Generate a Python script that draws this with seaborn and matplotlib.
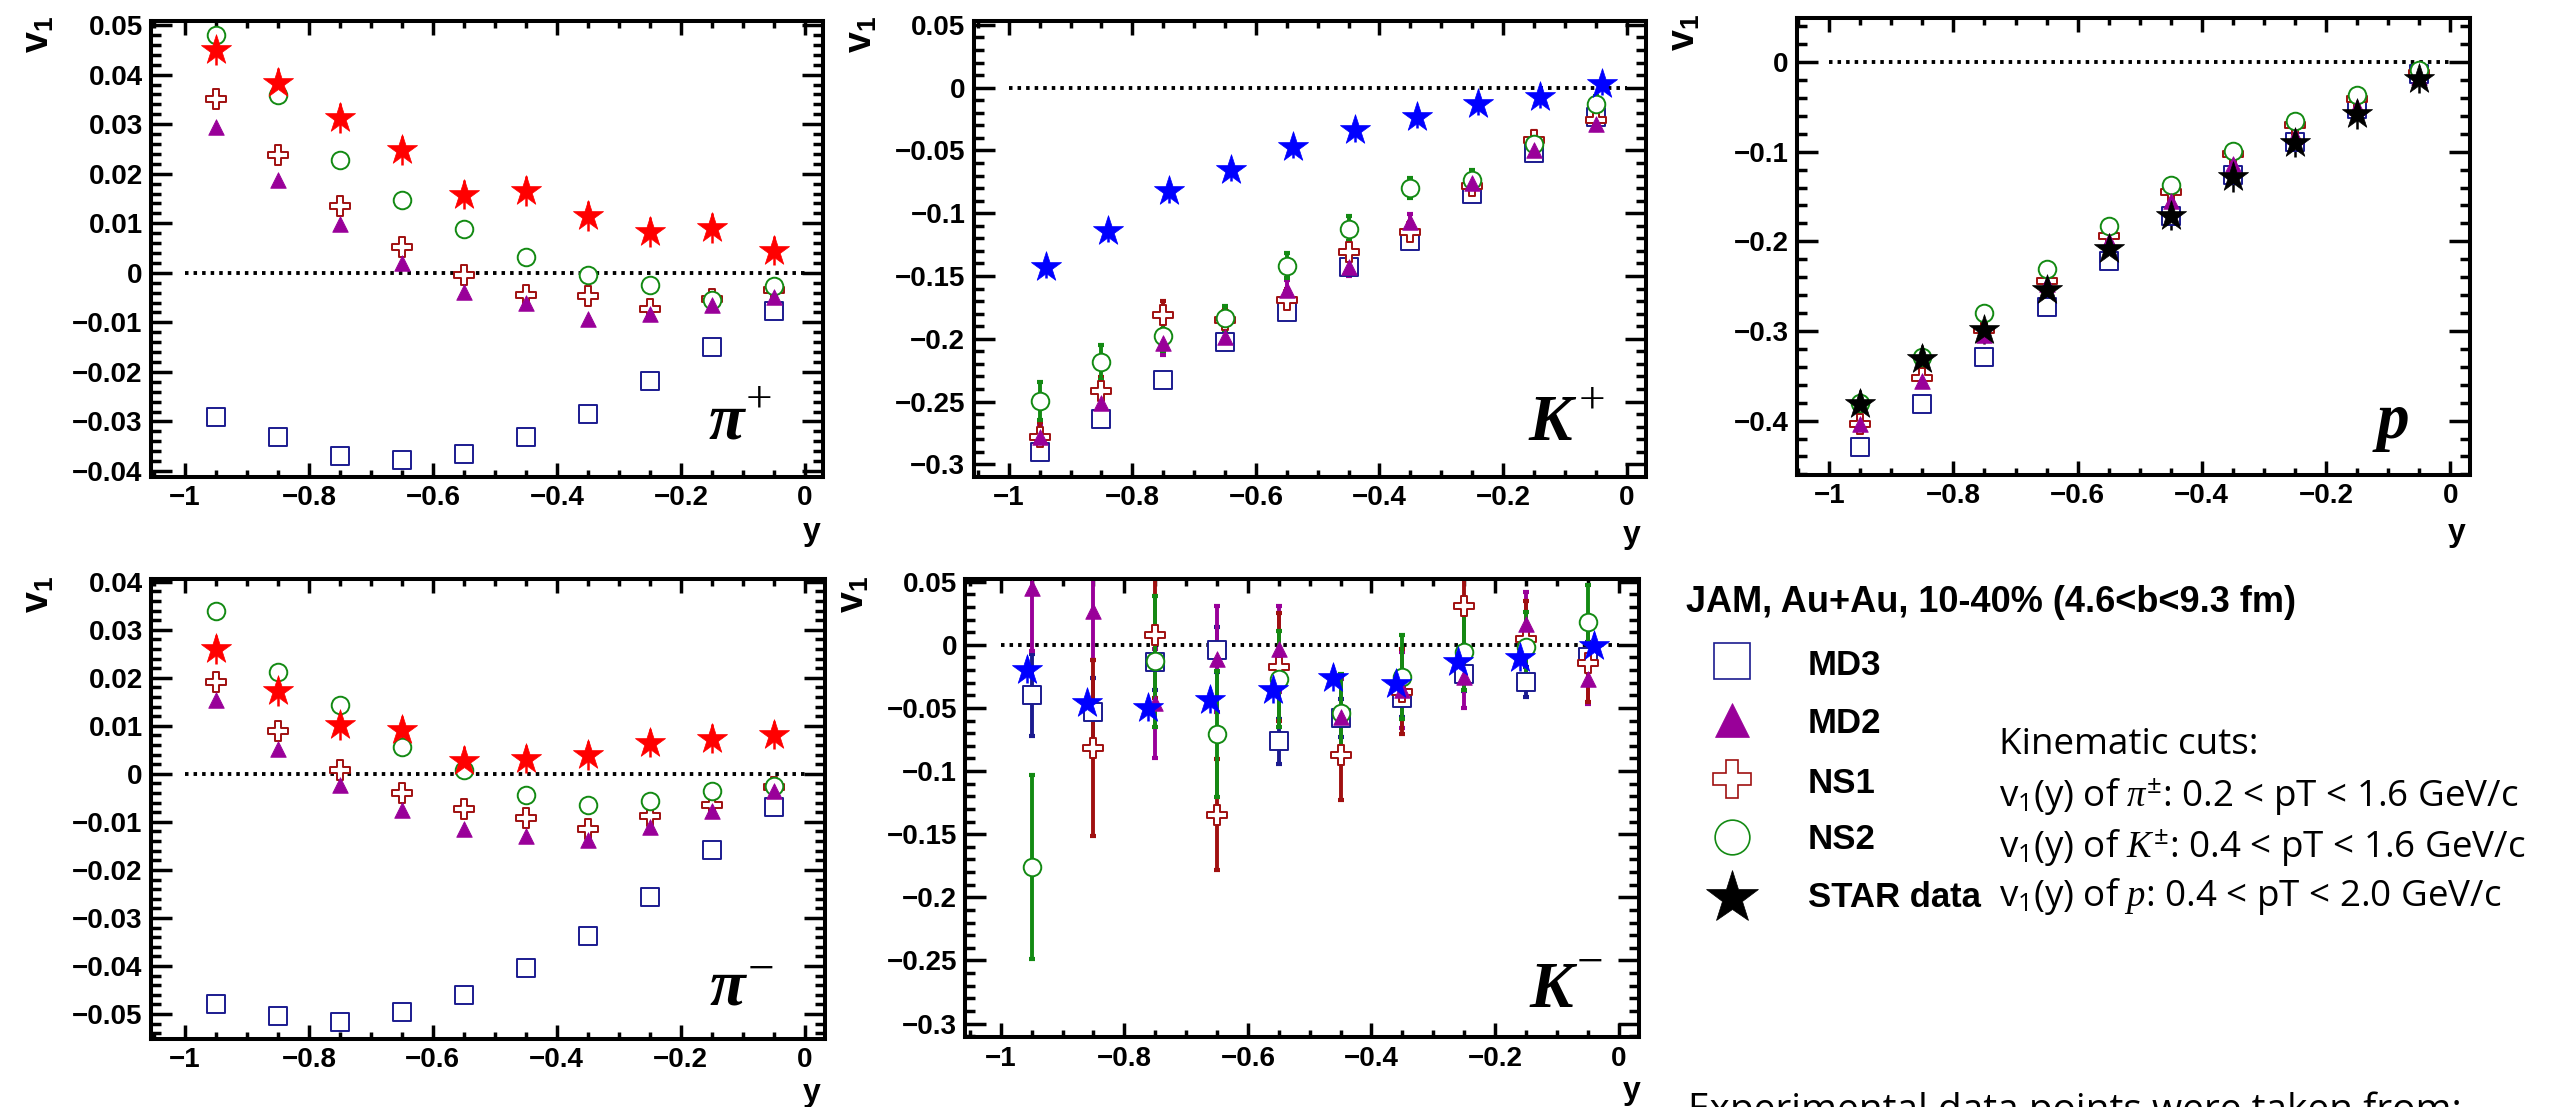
import matplotlib
matplotlib.use("Agg")
import matplotlib.pyplot as plt
from matplotlib.lines import Line2D
from matplotlib.ticker import MultipleLocator, FuncFormatter
import seaborn as sns

# ---------------------------------------------------------------------------
# Directed flow v1(y), JAM Au+Au 10-40 %, four model variants vs STAR data
# ---------------------------------------------------------------------------
y_model = [-0.95, -0.85, -0.75, -0.65, -0.55, -0.45, -0.35, -0.25, -0.15, -0.05]

# pi+
pip_md3 = [-0.029, -0.0331, -0.037, -0.0378, -0.0365, -0.0331, -0.0285, -0.0219, -0.015, -0.0077]
pip_md2 = [0.0295, 0.0187, 0.0098, 0.002, -0.0038, -0.0061, -0.0093, -0.0083, -0.0065, -0.0049]
pip_ns1 = [0.035, 0.0237, 0.0135, 0.0053, -0.0005, -0.0045, -0.0047, -0.0073, -0.0053, -0.0035]
pip_ns2 = [0.0479, 0.0358, 0.0228, 0.0147, 0.0088, 0.0031, -0.0005, -0.0025, -0.0055, -0.0027]
pip_star_y = [-0.95, -0.85, -0.75, -0.65, -0.55, -0.45, -0.35, -0.25, -0.15, -0.05]
pip_star = [0.045, 0.0383, 0.0313, 0.0247, 0.0158, 0.0165, 0.0115, 0.0083, 0.0091, 0.0045]
pip_star_err = [0.003, 0.003, 0.003, 0.003, 0.003, 0.003, 0.003, 0.003, 0.003, 0.003]

# pi-
pim_md3 = [-0.0479, -0.0505, -0.0516, -0.0496, -0.0461, -0.0405, -0.0337, -0.0256, -0.0159, -0.0069]
pim_md2 = [0.0154, 0.0052, -0.0024, -0.0075, -0.0114, -0.013, -0.0138, -0.011, -0.0078, -0.0036]
pim_ns1 = [0.0191, 0.009, 0.0009, -0.0039, -0.0073, -0.0092, -0.0114, -0.0088, -0.0065, -0.0028]
pim_ns2 = [0.0338, 0.0212, 0.0144, 0.0056, 0.0009, -0.0044, -0.0065, -0.0057, -0.0035, -0.0026]
pim_star_y = [-0.95, -0.85, -0.75, -0.65, -0.55, -0.45, -0.35, -0.25, -0.15, -0.05]
pim_star = [0.0259, 0.0172, 0.0101, 0.0091, 0.0027, 0.0031, 0.0039, 0.0064, 0.0073, 0.0081]
pim_star_err = [0.003, 0.003, 0.003, 0.003, 0.003, 0.003, 0.003, 0.003, 0.003, 0.003]

# K+
kp_md3 = [-0.2906, -0.2637, -0.2332, -0.2026, -0.1783, -0.143, -0.1218, -0.0851, -0.0523, -0.0234]
kp_md3_err = [0.004, 0.004, 0.004, 0.004, 0.004, 0.004, 0.004, 0.004, 0.004, 0.004]
kp_md2 = [-0.278, -0.2514, -0.2037, -0.199, -0.161, -0.143, -0.1074, -0.0759, -0.05, -0.029]
kp_md2_err = [0.01, 0.01, 0.009, 0.008, 0.008, 0.007, 0.007, 0.006, 0.006, 0.005]
kp_ns1 = [-0.278, -0.2418, -0.181, -0.185, -0.169, -0.131, -0.115, -0.0781, -0.0418, -0.026]
kp_ns1_err = [0.012, 0.011, 0.011, 0.009, 0.009, 0.009, 0.008, 0.007, 0.007, 0.006]
kp_ns2 = [-0.2494, -0.2188, -0.1979, -0.1836, -0.1418, -0.1125, -0.0798, -0.0733, -0.045, -0.0129]
kp_ns2_err = [0.015, 0.014, 0.012, 0.01, 0.01, 0.01, 0.008, 0.008, 0.007, 0.006]
kp_star_y = [-0.94, -0.84, -0.74, -0.64, -0.54, -0.44, -0.34, -0.24, -0.14, -0.04]
kp_star = [-0.143, -0.114, -0.0825, -0.0655, -0.047, -0.034, -0.0234, -0.013, -0.0076, 0.0028]
kp_star_err = [0.009, 0.009, 0.009, 0.009, 0.009, 0.009, 0.009, 0.009, 0.009, 0.009]

# K-
km_md3 = [-0.0398, -0.0529, -0.0136, -0.0037, -0.0765, -0.0581, -0.0419, -0.0228, -0.0293, -0.0097]
km_md3_err = [0.0325, 0.027, 0.0225, 0.018, 0.018, 0.015, 0.015, 0.014, 0.012, 0.012]
km_md2 = [0.0453, 0.027, -0.0463, -0.011, -0.003, -0.057, -0.036, -0.0254, 0.0165, -0.0267]
km_md2_err = [0.05, 0.039, 0.043, 0.042, 0.034, 0.03, 0.03, 0.025, 0.025, 0.02]
km_ns1 = [float("nan"), -0.0817, 0.0081, -0.1345, -0.0175, -0.087, -0.037, 0.0309, 0.0047, -0.0141]
km_ns1_err = [float("nan"), 0.07, 0.05, 0.044, 0.043, 0.036, 0.034, 0.04, 0.03, 0.031]
km_ns2 = [-0.176, float("nan"), -0.0131, -0.0707, -0.0272, -0.054, -0.0254, -0.0058, -0.0018, 0.0178]
km_ns2_err = [0.073, float("nan"), 0.052, 0.05, 0.038, 0.031, 0.033, 0.03, 0.028, 0.03]
km_star_y = [-0.958, -0.861, -0.761, -0.661, -0.56, -0.462, -0.36, -0.26, -0.159, -0.04]
km_star = [-0.0202, -0.0463, -0.0503, -0.0437, -0.0359, -0.0262, -0.0314, -0.0136, -0.0105, -0.001]
km_star_err = [0.01, 0.01, 0.01, 0.01, 0.01, 0.01, 0.01, 0.01, 0.01, 0.01]

# protons
p_md3 = [-0.4297, -0.3816, -0.3286, -0.2731, -0.2221, -0.1721, -0.1262, -0.0892, -0.0522, -0.013]
p_md2 = [-0.404, -0.3557, -0.3046, -0.2472, -0.2002, -0.1547, -0.114, -0.0825, -0.05, -0.0167]
p_ns1 = [-0.4038, -0.352, -0.299, -0.2446, -0.1936, -0.1447, -0.1029, -0.0707, -0.0411, -0.0122]
p_ns2 = [-0.3805, -0.3286, -0.2805, -0.2306, -0.1825, -0.1369, -0.0992, -0.0659, -0.0363, -0.0085]
p_star_y = [-0.95, -0.85, -0.75, -0.65, -0.55, -0.45, -0.35, -0.25, -0.15, -0.05]
p_star = [-0.3816, -0.3316, -0.299, -0.2546, -0.2084, -0.1714, -0.1288, -0.0899, -0.0585, -0.0185]
p_star_err = [0.016, 0.016, 0.016, 0.016, 0.016, 0.016, 0.016, 0.016, 0.016, 0.016]

model_names = ["MD3", "MD2", "NS1", "NS2"]
legend_labels = ["MD3", "MD2", "NS1", "NS2", "STAR data"]
kin_lines = [
    r"v$_1$(y) of $\pi^{\pm}$: 0.2 < pT < 1.6 GeV/c",
    r"v$_1$(y) of $K^{\pm}$: 0.4 < pT < 1.6 GeV/c",
    r"v$_1$(y) of $p$: 0.4 < pT < 2.0 GeV/c",
]

# ---------------------------------------------------------------------------
sns.set_theme(style="ticks")
plt.rcParams.update({
    "font.family": ["Liberation Sans", "DejaVu Sans"],
    "font.weight": "bold",
    "axes.unicode_minus": True,
    "mathtext.fontset": "custom",
    "mathtext.rm": "Open Sans:weight=normal",
    "mathtext.it": "Liberation Serif:style=italic:weight=normal",
    "mathtext.bf": "Liberation Sans:weight=bold",
    "axes.edgecolor": "black",
    "xtick.color": "black",
    "ytick.color": "black",
    "text.color": "black",
})

C_MD3 = "#1b1b8f"
C_MD2 = "#990099"
C_NS1 = "#a01010"
C_NS2 = "#138a13"

STYLE = {
    "MD3": dict(marker="s", s=160, face="white", edge=C_MD3, lw=1.4, z=3.0),
    "NS1": dict(marker="P", s=210, face="white", edge=C_NS1, lw=1.4, z=3.1),
    "NS2": dict(marker="o", s=160, face="white", edge=C_NS2, lw=1.4, z=3.2),
    "MD2": dict(marker="^", s=125, face=C_MD2, edge=C_MD2, lw=0.6, z=3.3),
}
STAR_S = 520

W, H = 2554, 1107
fig = plt.figure(figsize=(W / 100, H / 100), dpi=100, facecolor="white")


def add_panel(l, t, r, b):
    return fig.add_axes([l / W, 1 - b / H, (r - l) / W, (b - t) / H])


def tick_fmt(v, pos):
    v = round(v, 6)
    if abs(v) < 1e-9:
        return "0"
    return f"{v:g}".replace("-", "\u2212")


def style_axes(ax, xlim, ylim, ymaj, ymin):
    ax.set_xlim(*xlim)
    ax.set_ylim(*ylim)
    ax.xaxis.set_major_locator(MultipleLocator(0.2))
    ax.xaxis.set_minor_locator(MultipleLocator(0.05))
    ax.yaxis.set_major_locator(MultipleLocator(ymaj))
    ax.yaxis.set_minor_locator(MultipleLocator(ymin))
    ax.xaxis.set_major_formatter(FuncFormatter(tick_fmt))
    ax.yaxis.set_major_formatter(FuncFormatter(tick_fmt))
    ax.tick_params(which="both", direction="in", top=True, right=True,
                   width=2.5, labelsize=20, pad=6)
    ax.tick_params(axis="y", which="major", length=15)
    ax.tick_params(axis="y", which="minor", length=7.5)
    ax.tick_params(axis="x", which="major", length=10)
    ax.tick_params(axis="x", which="minor", length=5)
    for sp in ax.spines.values():
        sp.set_visible(True)
        sp.set_linewidth(2.9)
        sp.set_color("black")
    ax.set_xlabel("")
    ax.set_ylabel("")
    ax.hlines(0, -1, 0, colors="black", linewidth=2.8,
              linestyles=(0, (0.9, 1.3)), zorder=1.5)


def draw_panel(ax, xs, models, errs, star_x, star_v, star_err, star_color):
    # error bars first, markers on top of them
    for name in model_names:
        if errs.get(name) is not None:
            ax.errorbar(xs, models[name], yerr=errs[name], fmt="none",
                        ecolor=STYLE[name]["edge"], elinewidth=2.8,
                        capsize=2.0, capthick=3.0, zorder=2)
    ax.errorbar(star_x, star_v, yerr=star_err, fmt="none", ecolor=star_color,
                elinewidth=1.8, capsize=0, zorder=2.5)
    for name in ["MD3", "NS1", "NS2", "MD2"]:
        st = STYLE[name]
        sns.scatterplot(x=xs, y=models[name], ax=ax, marker=st["marker"],
                        s=st["s"], color=st["face"], edgecolor=st["edge"],
                        linewidth=st["lw"], zorder=st["z"], legend=False)
    sns.scatterplot(x=star_x, y=star_v, ax=ax, marker="*", s=STAR_S,
                    color=star_color, edgecolor=star_color, linewidth=0.5,
                    zorder=3.5, legend=False)


def panel_label(ax, base, sup, bx, by, sx, sy):
    ax.text(bx, by, base, transform=ax.transAxes, fontsize=47,
            family="Liberation Serif", style="italic", weight="bold",
            ha="left", va="baseline", zorder=5)
    if sup:
        ax.text(sx, sy, sup, transform=ax.transAxes, fontsize=34,
                family="Liberation Serif", style="normal", weight="normal",
                ha="left", va="center", zorder=5)


def ftext(xp, yp, s, **kw):
    fig.text(xp / W, 1 - yp / H, s, **kw)


# ---- panels ---------------------------------------------------------------
ax1 = add_panel(151, 20.6, 823, 477)
ax2 = add_panel(973.6, 20.6, 1645.7, 476.6)
ax3 = add_panel(1797, 18.2, 2470, 475)
ax4 = add_panel(151, 578.8, 825, 1038.5)
ax5 = add_panel(965.5, 579.2, 1639, 1037.4)

draw_panel(ax1, y_model,
           {"MD3": pip_md3, "MD2": pip_md2, "NS1": pip_ns1, "NS2": pip_ns2}, {},
           pip_star_y, pip_star, pip_star_err, "#ff0000")
draw_panel(ax4, y_model,
           {"MD3": pim_md3, "MD2": pim_md2, "NS1": pim_ns1, "NS2": pim_ns2}, {},
           pim_star_y, pim_star, pim_star_err, "#ff0000")
draw_panel(ax2, y_model,
           {"MD3": kp_md3, "MD2": kp_md2, "NS1": kp_ns1, "NS2": kp_ns2},
           {"MD3": kp_md3_err, "MD2": kp_md2_err, "NS1": kp_ns1_err, "NS2": kp_ns2_err},
           kp_star_y, kp_star, kp_star_err, "#0000ff")
draw_panel(ax5, y_model,
           {"MD3": km_md3, "MD2": km_md2, "NS1": km_ns1, "NS2": km_ns2},
           {"MD3": km_md3_err, "MD2": km_md2_err, "NS1": km_ns1_err, "NS2": km_ns2_err},
           km_star_y, km_star, km_star_err, "#0000ff")
draw_panel(ax3, y_model,
           {"MD3": p_md3, "MD2": p_md2, "NS1": p_ns1, "NS2": p_ns2}, {},
           p_star_y, p_star, p_star_err, "#000000")

# axis ranges and tick spacing, applied after seaborn has drawn
style_axes(ax1, (-1.055, 0.029), (-0.0412, 0.0509), 0.01, 0.002)
style_axes(ax2, (-1.057, 0.031), (-0.3098, 0.0534), 0.05, 0.01)
style_axes(ax3, (-1.052, 0.032), (-0.4607, 0.0489), 0.1, 0.02)
style_axes(ax4, (-1.055, 0.033), (-0.0551, 0.0406), 0.01, 0.002)
style_axes(ax5, (-1.057, 0.033), (-0.311, 0.052), 0.05, 0.01)

panel_label(ax1, "\u03c0", "+", 0.83, 0.085, 0.885, 0.168)
panel_label(ax2, "K", "+", 0.826, 0.08, 0.9, 0.165)
panel_label(ax3, "p", "", 0.862, 0.08, 0.95, 0.16)
panel_label(ax4, "\u03c0", "\u2212", 0.828, 0.073, 0.885, 0.145)
panel_label(ax5, "K", "\u2212", 0.837, 0.067, 0.907, 0.16)

# axis titles
for (xp, yp) in [(39, 34), (862, 34), (1685, 32), (39, 594), (854, 594)]:
    ftext(xp, yp, r"v$_\mathbf{1}$", fontsize=27, weight="bold",
          rotation=90, ha="center", va="center")
for (xp, yp) in [(812, 532), (1632, 535), (2457, 533), (812, 1093), (1632, 1091)]:
    ftext(xp, yp, "y", fontsize=23, weight="bold", ha="center", va="center")

# ---- legend and notes -----------------------------------------------------
ftext(1686, 602, "JAM, Au+Au, 10-40% (4.6<b<9.3 fm)", fontsize=26,
      weight="bold", ha="left", va="center")

legend_styles = [
    dict(marker="s", ms=26, mfc="white", mec=C_MD3, mew=1.2),
    dict(marker="^", ms=25, mfc=C_MD2, mec=C_MD2, mew=0.5),
    dict(marker="P", ms=27, mfc="white", mec=C_NS1, mew=1.2),
    dict(marker="o", ms=25, mfc="white", mec=C_NS2, mew=1.2),
    dict(marker="*", ms=40, mfc="black", mec="black", mew=0.5),
]
handle_y = [661, 720, 779, 837, 898]
label_base = [675, 733, 793, 849, 907]
for lab, sty, hy, by in zip(legend_labels, legend_styles, handle_y, label_base):
    fig.add_artist(Line2D([1732 / W], [1 - hy / H], transform=fig.transFigure,
                          linestyle="none", **sty))
    ftext(1808, by, lab, fontsize=25, weight="bold", ha="left", va="baseline")

ftext(1999, 754, "Kinematic cuts:", fontsize=26.5, family="Open Sans",
      weight="normal", ha="left", va="baseline")
for line, by in zip(kin_lines, [806, 857, 906]):
    ftext(1999, by, line, fontsize=26.5, family="Open Sans", weight="normal",
          ha="left", va="baseline")

ftext(1688, 1121, "Experimental data points were taken from:", fontsize=28,
      family="Open Sans", weight="normal", ha="left", va="baseline")

fig.savefig("out.png", dpi=100, facecolor="white")
